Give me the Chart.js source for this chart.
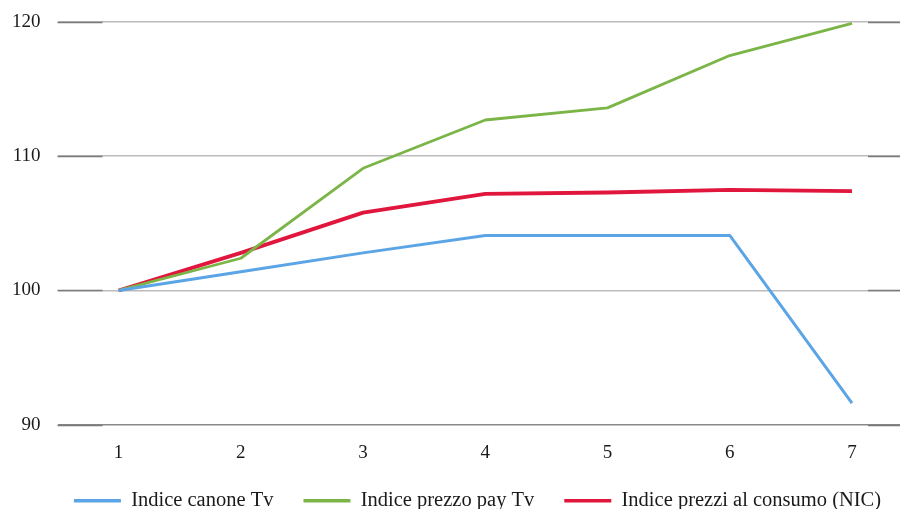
<!DOCTYPE html>
<html>
<head>
<meta charset="utf-8">
<script src="https://cdn.jsdelivr.net/npm/chart.js@4.4.1/dist/chart.umd.min.js"></script>
<style>
  html, body { margin: 0; padding: 0; background: #fff; }
  #wrap { width: 900px; height: 509px; position: relative; }
</style>
</head>
<body>
<div id="wrap"><canvas id="indexChart"></canvas></div>
<script>
const periods = [1, 2, 3, 4, 5, 6, 7];
const canoneTv = [100, 101.4, 102.8, 104.1, 104.1, 104.1, 91.6];
const prezzoPayTv = [100, 102.4, 109.1, 112.7, 113.6, 117.5, 119.9];
const prezziConsumo = [100, 102.8, 105.8, 107.2, 107.3, 107.5, 107.4];
const yTicks = [90, 100, 110, 120];

const serif = "'Liberation Serif', 'DejaVu Serif', serif";

const toPoints = (values) => values.map((v, i) => ({ x: periods[i], y: v }));

// darker stubs at both ends of each horizontal gridline, like the scanned original
const gridStubs = {
  id: "gridStubs",
  beforeDatasetsDraw(chart) {
    const { ctx, chartArea, scales } = chart;
    ctx.save();
    ctx.strokeStyle = "#7a7a7a";
    ctx.lineWidth = 1.5;
    yTicks.forEach((t) => {
      const y = Math.round(scales.y.getPixelForValue(t)) + 0.5;
      ctx.beginPath();
      ctx.moveTo(chartArea.left, y);
      ctx.lineTo(chartArea.left + 45, y);
      ctx.moveTo(chartArea.right - 32, y);
      ctx.lineTo(chartArea.right, y);
      ctx.stroke();
    });
    ctx.restore();
  },
};

// the legend in the original sits a bit right of the page centre
const legendShift = {
  id: "legendShift",
  afterLayout(chart) {
    if (!chart.legend) return;
    chart.legend.left += 30;
    chart.legend.right += 30;
  },
};

const ctx = document.getElementById("indexChart").getContext("2d");
new Chart(ctx, {
  type: "line",
  data: {
    datasets: [
      {
        label: "Indice canone Tv",
        data: toPoints(canoneTv),
        borderColor: "#5ba4e5",
        backgroundColor: "#5ba4e5",
        borderWidth: 3,
      },
      {
        label: "Indice prezzo pay Tv",
        data: toPoints(prezzoPayTv),
        borderColor: "#7bb547",
        backgroundColor: "#7bb547",
        borderWidth: 2.8,
      },
      {
        label: "Indice prezzi al consumo (NIC)",
        data: toPoints(prezziConsumo),
        borderColor: "#e0163d",
        backgroundColor: "#e0163d",
        borderWidth: 3.8,
      },
    ],
  },
  plugins: [gridStubs, legendShift],
  options: {
    responsive: true,
    maintainAspectRatio: false,
    animation: false,
    elements: {
      point: { radius: 0 },
      line: { tension: 0, borderJoinStyle: "round" },
    },
    layout: { padding: { top: 22, left: -5, right: 0, bottom: -12 } },
    scales: {
      x: {
        type: "linear",
        min: 0.5,
        max: 7.393,
        grid: { display: false },
        border: { display: false },
        afterBuildTicks: (scale) => {
          scale.ticks = periods.map((v) => ({ value: v }));
        },
        afterFit: (scale) => {
          scale.height -= 13;
        },
        ticks: {
          padding: 9,
          color: "#1a1a1a",
          font: { family: serif, size: 19 },
          callback: (v) => String(v),
        },
      },
      y: {
        min: 90,
        max: 120,
        afterBuildTicks: (scale) => {
          scale.ticks = yTicks.map((v) => ({ value: v }));
        },
        afterFit: (scale) => {
          scale.paddingTop = 0;
          scale.paddingBottom = 0;
        },
        grid: {
          color: (c) => (c.tick && c.tick.value === 90 ? "#888" : "#bcbcbc"),
          lineWidth: 1.5,
          drawTicks: false,
        },
        border: { display: false },
        ticks: {
          padding: 17,
          color: "#1a1a1a",
          font: { family: serif, size: 19 },
        },
      },
    },
    plugins: {
      tooltip: { enabled: false },
      legend: {
        position: "bottom",
        labels: {
          boxWidth: 47,
          boxHeight: 3.5,
          padding: 30,
          color: "#1a1a1a",
          font: { family: serif, size: 20.5 },
          generateLabels: (chart) =>
            Chart.defaults.plugins.legend.labels
              .generateLabels(chart)
              .map((item) => ({ ...item, lineWidth: 0 })),
        },
      },
    },
  },
});
</script>
</body>
</html>
